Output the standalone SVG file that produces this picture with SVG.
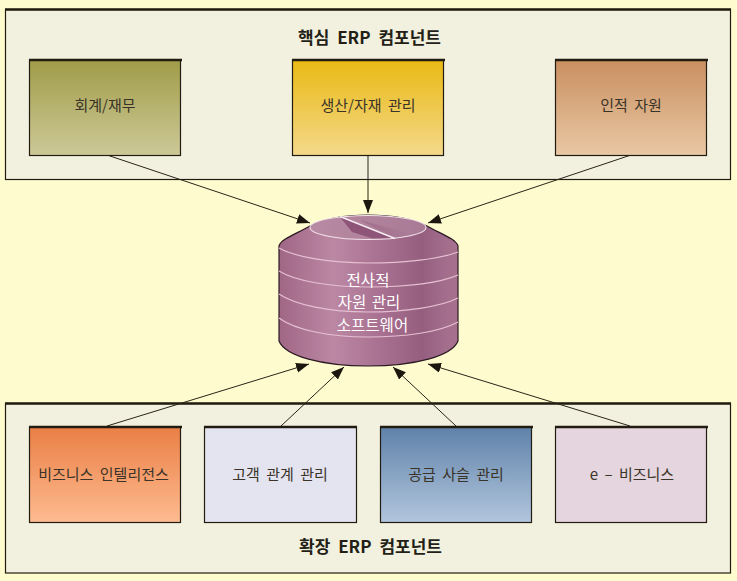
<svg xmlns="http://www.w3.org/2000/svg" width="737" height="581" viewBox="0 0 737 581">
<style>
.panel{fill:#f2f1df;stroke:#221c10;stroke-width:1.2}
.edge{stroke:#221c10;stroke-width:1.2}
.cap{fill:none;stroke:#221c10;stroke-width:2.4}
.box text,.title{font-family:"Noto Sans CJK KR","Liberation Sans",sans-serif;text-anchor:middle}
.box text{font-size:15px;fill:#3a3328;word-spacing:3px}
.title{font-size:17px;font-weight:700;fill:#231f16;word-spacing:4px}
.conn{fill:none;stroke:#2a2418;stroke-width:1;marker-end:url(#arrow)}
.band{fill:none;stroke:#e6bfd2;stroke-width:1.1}
.dbt{font-family:"Noto Sans CJK KR","Liberation Sans",sans-serif;font-size:15.5px;fill:#fff;text-anchor:middle;word-spacing:2px}
</style>
<defs>
<marker id="arrow" markerUnits="userSpaceOnUse" markerWidth="14" markerHeight="12" refX="13" refY="5" orient="auto">
<path d="M0 0L13 5L0 10Z" fill="#1c170e"/>
</marker>
<linearGradient id="g1" x1="0" y1="0" x2="0" y2="1"><stop offset="0" stop-color="#a09c48"/><stop offset="1" stop-color="#cdc998"/></linearGradient>
<linearGradient id="g2" x1="0" y1="0" x2="0" y2="1"><stop offset="0" stop-color="#e9b914"/><stop offset="1" stop-color="#f4d98a"/></linearGradient>
<linearGradient id="g3" x1="0" y1="0" x2="0" y2="1"><stop offset="0" stop-color="#c98f60"/><stop offset="1" stop-color="#e9c8a4"/></linearGradient>
<linearGradient id="g4" x1="0" y1="0" x2="0" y2="1"><stop offset="0" stop-color="#ea7f45"/><stop offset="1" stop-color="#fdbb90"/></linearGradient>
<linearGradient id="g5" x1="0" y1="0" x2="0" y2="1"><stop offset="0" stop-color="#5f82aa"/><stop offset="1" stop-color="#b2c6dd"/></linearGradient>
<linearGradient id="body" x1="0" y1="0" x2="1" y2="0">
<stop offset="0" stop-color="#a06685"/><stop offset="0.3" stop-color="#bb88a4"/><stop offset="0.55" stop-color="#aa7292"/><stop offset="0.8" stop-color="#955e7f"/><stop offset="0.92" stop-color="#a26d8c"/><stop offset="1" stop-color="#a9708f"/>
</linearGradient>
<linearGradient id="capfill" x1="0" y1="0" x2="1" y2="0"><stop offset="0" stop-color="#b98aa3"/><stop offset="1" stop-color="#a87a95"/></linearGradient>
<linearGradient id="wedge" x1="0" y1="0" x2="1" y2="0"><stop offset="0" stop-color="#a06a8a"/><stop offset="1" stop-color="#a87a95"/></linearGradient>
</defs>
<rect width="737" height="581" fill="#fefbcf"/>

<rect class="panel" x="5.5" y="9.5" width="725" height="170"/>
<path class="cap" d="M5 9.500H731"/>
<rect class="panel" x="5.5" y="403.500" width="725" height="169.500"/>
<path class="cap" d="M5 403.500H731"/>
<text class="title" x="369.500" y="44">핵심 ERP 컴포넌트</text>
<text class="title" x="370.500" y="553">확장 ERP 컴포넌트</text>

<g id="connectors">
<path class="conn" d="M107 155L310 223"/>
<path class="conn" d="M368 155V213"/>
<path class="conn" d="M631 155L428 223"/>
<path class="conn" d="M107 426L309 364"/>
<path class="conn" d="M281 426L344 367"/>
<path class="conn" d="M456 426L393 367"/>
<path class="conn" d="M630 426L428 364"/>
</g>

<g id="n-accounting" class="box"><rect class="edge" x="29.500" y="60" width="151" height="95.500" fill="url(#g1)"/><path class="cap" d="M29 60H182"/><text x="105" y="111">회계/재무</text></g>
<g id="n-production" class="box"><rect class="edge" x="292.500" y="60" width="151" height="95.500" fill="url(#g2)"/><path class="cap" d="M292 60H445"/><text x="368" y="111">생산/자재 관리</text></g>
<g id="n-hr" class="box"><rect class="edge" x="555.500" y="60" width="151" height="95.500" fill="url(#g3)"/><path class="cap" d="M555 60H708"/><text x="631" y="111">인적 자원</text></g>

<g id="n-erp">
<path d="M279 246C281 239 296 234 310 226C324 219 345 215 368 215C392 215 413 219 427 226C441 234 456 239 458 246V341C452 356 415 366 368 366C322 366 285 356 279 341Z" fill="url(#body)" stroke="#2a1a22" stroke-width="1.200"/>
<ellipse cx="368" cy="227.500" rx="58" ry="12" fill="url(#capfill)"/>
<path d="M340 217L352 232L373 238.500L395 238.500Z" fill="#8f5578"/>
<path d="M360 220L408 233L400 238L395 238.500Z" fill="url(#wedge)" opacity="0.8"/>
<ellipse cx="368" cy="227.500" rx="58" ry="12" fill="none" stroke="#f2e2ea" stroke-width="1.100"/>
<path d="M340 216.500L395 238.500" stroke="#f6ecf1" stroke-width="1.500" fill="none"/>
<path class="band" d="M279 248C295 257 330 263 368 263C405 263 440 259 458 252"/>
<path class="band" d="M279 271C295 281 330 287 368 287C405 287 440 283 458 275"/>
<path class="band" d="M279 294C295 305 330 312 368 312C405 312 440 307 458 298"/>
<path class="band" d="M279 318C295 330 330 337 368 337C405 337 440 332 458 322"/>
<text class="dbt" x="368" y="286">전사적</text>
<text class="dbt" x="369" y="308">자원 관리</text>
<text class="dbt" x="372.500" y="331">소프트웨어</text>
</g>

<g id="n-bi" class="box"><rect class="edge" x="29.500" y="427" width="151" height="95.500" fill="url(#g4)"/><path class="cap" d="M29 427H182"/><text x="103.500" y="480">비즈니스 인텔리전스</text></g>
<g id="n-crm" class="box"><rect class="edge" x="204.500" y="427" width="152" height="95.500" fill="#e4e4f0"/><path class="cap" d="M204 427H357"/><text x="280" y="480">고객 관계 관리</text></g>
<g id="n-scm" class="box"><rect class="edge" x="380.500" y="427" width="151" height="95.500" fill="url(#g5)"/><path class="cap" d="M380 427H533"/><text x="456" y="480">공급 사슬 관리</text></g>
<g id="n-ebiz" class="box"><rect class="edge" x="555.500" y="427" width="151" height="95.500" fill="#e4d5de"/><path class="cap" d="M555 427H708"/><text x="632" y="480">e – 비즈니스</text></g>
</svg>
